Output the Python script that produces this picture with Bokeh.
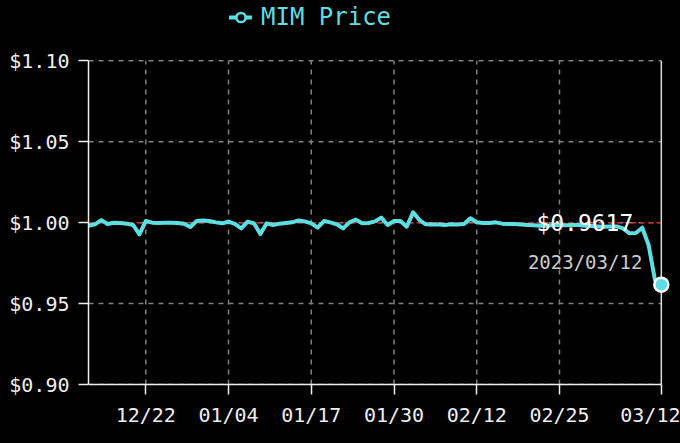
from bokeh.plotting import figure
from bokeh.models import (ColumnDataSource, Range1d, FixedTicker, NumeralTickFormatter,
                          Label, Legend, LegendItem)
from bokeh.embed import file_html
from bokeh.resources import INLINE

# ---- data ----
prices = [0.9981, 0.9990, 1.0016, 0.9992, 1.0000, 0.9998, 0.9994, 0.9986, 0.9928, 1.0010,
          1.0000, 0.9998, 1.0000, 1.0000, 0.9998, 0.9994, 0.9973, 1.0010, 1.0014, 1.0010,
          1.0002, 0.9996, 1.0006, 0.9993, 0.9965, 1.0006, 0.9996, 0.9930, 0.9996, 0.9986,
          0.9994, 0.9998, 1.0002, 1.0014, 1.0008, 0.9996, 0.9969, 1.0010, 1.0002, 0.9990,
          0.9965, 1.0002, 1.0019, 0.9996, 0.9998, 1.0008, 1.0031, 0.9986, 1.0010, 1.0010,
          0.9975, 1.0064, 1.0016, 0.9990, 0.9988, 0.9988, 0.9986, 0.9990, 0.9988, 0.9992,
          1.0027, 1.0002, 0.9998, 0.9998, 1.0002, 0.9994, 0.9992, 0.9992, 0.9988, 0.9986,
          0.9984, 0.9981, 0.9981, 0.9986, 0.9986, 0.9984, 0.9986, 0.9986, 0.9981, 0.9979,
          0.9977, 0.9975, 0.9977, 0.9977, 0.9965, 0.9934, 0.9936, 0.9969, 0.9862, 0.9646,
          0.9617]
day_index = list(range(len(prices)))
tick_positions = [9, 22, 35, 48, 61, 74, 90]
tick_labels = ["12/22", "01/04", "01/17", "01/30", "02/12", "02/25", "03/12"]
y_ticks = [0.90, 0.95, 1.00, 1.05, 1.10]
peg = 1.00
last_date = "2023/03/12"
series_name = "MIM Price"

FONT = "DejaVu Sans Mono"
CYAN = "#5CDFE2"
GRID = "#808080"

x0, x1 = day_index[0], day_index[-1]
y0, y1 = y_ticks[0], y_ticks[-1]
# frame reaches up to the top of the canvas so the legend (inside the frame) is visible
p = figure(width=680, height=443, output_backend="svg", toolbar_location=None,
           x_range=Range1d(x0, x1 + 1.6), y_range=Range1d(y0, y1 + 0.0373),
           background_fill_color="black", border_fill_color=None,
           min_border_left=88, min_border_right=9, min_border_top=0, min_border_bottom=59)
p.styles = {"background-color": "black"}
p.outline_line_color = None

# grid drawn as dashed segments spanning only the data area
p.xgrid.grid_line_color = None
p.ygrid.grid_line_color = None
vt = tick_positions[:-1]
p.segment(x0=vt, x1=vt, y0=[y0] * len(vt), y1=[y1] * len(vt),
          line_color=GRID, line_dash="5 5", line_width=1.5)
p.segment(x0=[x0] * len(y_ticks), x1=[x1] * len(y_ticks), y0=y_ticks, y1=y_ticks,
          line_color=GRID, line_dash="5 5", line_width=1.5)
# cursor line at the last point
p.segment(x0=[x1], x1=[x1], y0=[y0], y1=[y1], line_color="#dddddd", line_width=1.5)

# axes
for ax in (p.xaxis[0], p.yaxis[0]):
    ax.axis_line_color = "#eeeeee"
    ax.axis_line_width = 1.5
    ax.major_tick_line_color = "#eeeeee"
    ax.major_tick_line_width = 1.5
    ax.major_tick_out = 10
    ax.major_tick_in = 0
    ax.minor_tick_line_color = None
    ax.major_label_text_font = FONT
    ax.major_label_text_font_size = "20px"
    ax.major_label_text_color = "#eeeeee"
p.xaxis.ticker = FixedTicker(ticks=tick_positions)
p.xaxis.bounds = (x0, x1)
p.xaxis.major_label_overrides = {t: l for t, l in zip(tick_positions, tick_labels)}
p.xaxis.major_label_standoff = 8
p.yaxis.ticker = FixedTicker(ticks=y_ticks)
p.yaxis.bounds = (y0, y1)
p.yaxis.formatter = NumeralTickFormatter(format="$0.00")
p.yaxis.major_label_standoff = 9

# peg line
p.segment(x0=[x0], x1=[x1], y0=[peg], y1=[peg], line_color="#c8282a",
          line_dash="4 4", line_width=1.6)

src = ColumnDataSource(data=dict(x=day_index, y=prices))
line_r = p.line("x", "y", source=src, line_color=CYAN, line_width=4, line_join="round",
                line_cap="round")
# hollow marker used for the legend glyph (sits underneath the highlighted last point)
legend_marker = p.scatter(x=[x1], y=[prices[-1]], marker="circle", size=10,
                          fill_color="black", line_color=CYAN, line_width=2.5)
last_r = p.scatter(x=[x1], y=[prices[-1]], marker="circle", size=14,
                   fill_color=CYAN, line_color="white", line_width=2.5)

p.add_layout(Label(x=x1, y=prices[-1], x_offset=-28, y_offset=62,
                   text=f"${prices[-1]:.4f}", text_align="right", text_baseline="middle",
                   text_font=FONT, text_font_size="23px", text_color="white"))
p.add_layout(Label(x=x1, y=prices[-1], x_offset=-19, y_offset=23,
                   text=last_date, text_align="right", text_baseline="middle",
                   text_font=FONT, text_font_size="19px", text_color="#cccccc"))

legend = Legend(items=[LegendItem(label=series_name, renderers=[line_r, legend_marker])],
                location=(141, 353), padding=0, margin=0, glyph_width=23, glyph_height=26,
                label_height=26, label_standoff=9, background_fill_alpha=0,
                border_line_color=None, label_text_font=FONT, label_text_font_size="24px",
                label_text_color=CYAN)
p.add_layout(legend, "center")

open("out.html", "w").write(file_html(p, INLINE))
